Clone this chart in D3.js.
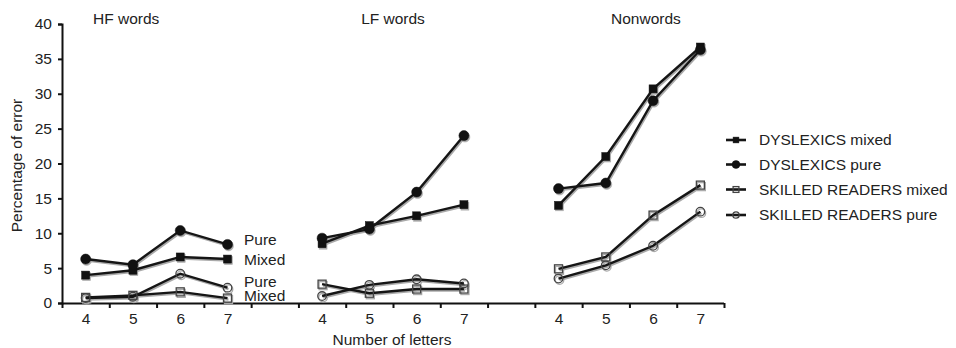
<!DOCTYPE html>
<html>
<head>
<meta charset="utf-8">
<script src="https://cdn.jsdelivr.net/npm/d3@7"></script>
<style>
  html, body { margin: 0; padding: 0; background: #fff; }
  svg { display: block; font-family: "Liberation Sans", Arial, sans-serif; }
</style>
</head>
<body>
<svg id="chart" width="956" height="348"></svg>
<script>
// ---- data ----
const groups = ["HF words", "LF words", "Nonwords"];
const letters = ["4", "5", "6", "7"];
const yTicks = [0, 5, 10, 15, 20, 25, 30, 35, 40];
const seriesNames = ["DYSLEXICS mixed", "DYSLEXICS pure", "SKILLED READERS mixed", "SKILLED READERS pure"];
// values per group: HF(4..7), LF(4..7), Nonwords(4..7)
const dyslexicsMixed = [4.0, 4.7, 6.6, 6.3,   8.5, 11.1, 12.5, 14.1,   14.0, 21.0, 30.7, 36.7];
const dyslexicsPure  = [6.3, 5.5, 10.4, 8.4,  9.3, 10.6, 15.9, 24.0,   16.4, 17.2, 29.0, 36.3];
const skilledMixed   = [0.8, 1.1, 1.6, 0.7,   2.7, 1.4, 2.0, 2.0,      4.9, 6.6, 12.6, 16.9];
const skilledPure    = [0.7, 0.9, 4.2, 2.2,   1.0, 2.6, 3.4, 2.8,      3.5, 5.4, 8.2, 13.1];
const inlineLabels = ["Pure", "Mixed", "Pure", "Mixed"];

// ---- layout ----
const svg = d3.select("#chart");
const FONT = 15.5;
const mLeft = 62, mRight = 724, mTop = 24, mBottom = 303;

// slot index: 4 per group, one blank between groups
const slotOf = (g, i) => g * 5 + i;
const x = d3.scaleLinear().domain([-0.5, 13.5]).range([mLeft, mRight]);
const y = d3.scaleLinear().domain([0, 40]).range([mBottom, mTop]);

// y axis
const yAxis = svg.append("g").attr("transform", `translate(${mLeft},0)`)
  .call(d3.axisLeft(y).tickValues(yTicks).tickSize(4).tickPadding(6).tickFormat(d3.format("d")));
yAxis.select(".domain").attr("stroke", "#111").attr("stroke-width", 2);
yAxis.selectAll(".tick line").attr("stroke", "#111").attr("stroke-width", 2);
yAxis.selectAll(".tick text").attr("font-size", FONT).attr("fill", "#222")
  .attr("font-family", "Liberation Sans, Arial, sans-serif");

// x axis: tick marks at slot boundaries
const edges = d3.range(-0.5, 14, 1);
const xAxis = svg.append("g").attr("transform", `translate(0,${mBottom})`)
  .call(d3.axisBottom(x).tickValues(edges).tickSize(5).tickFormat(""));
xAxis.select(".domain").attr("stroke", "#111").attr("stroke-width", 2).attr("d", `M${mLeft},0.5H${mRight}`);
xAxis.selectAll(".tick line").attr("stroke", "#111").attr("stroke-width", 2);

// x labels at slot centres
const labelSlots = [];
groups.forEach((g, gi) => letters.forEach((l, li) => labelSlots.push({ s: slotOf(gi, li), l })));
const xLab = svg.append("g").attr("transform", `translate(0,${mBottom})`)
  .call(d3.axisBottom(x).tickValues(labelSlots.map(d => d.s)).tickSize(0).tickPadding(10)
    .tickFormat((d) => labelSlots.find(e => e.s === d).l));
xLab.select(".domain").remove();
xLab.selectAll(".tick text").attr("font-size", FONT).attr("fill", "#222")
  .attr("font-family", "Liberation Sans, Arial, sans-serif");

// axis titles
svg.append("text").attr("transform", `translate(22,${(mTop + mBottom) / 2 + 2}) rotate(-90)`)
  .attr("text-anchor", "middle").attr("font-size", FONT).attr("fill", "#222").text("Percentage of error");
svg.append("text").attr("x", (x(slotOf(1, 1)) + x(slotOf(1, 2))) / 2 - 1).attr("y", 345)
  .attr("text-anchor", "middle").attr("font-size", FONT).attr("fill", "#222").text("Number of letters");

// group titles
const titlePos = [{ x: 93, a: "start" }, { x: 393, a: "middle" }, { x: 611, a: "start" }];
groups.forEach((g, gi) => {
  svg.append("text").attr("x", titlePos[gi].x).attr("y", 24).attr("text-anchor", titlePos[gi].a)
    .attr("font-size", FONT).attr("fill", "#222").text(g);
});

// ---- series ----
const series = [
  { name: seriesNames[0], values: dyslexicsMixed, shape: "square", filled: true },
  { name: seriesNames[1], values: dyslexicsPure, shape: "circle", filled: true },
  { name: seriesNames[2], values: skilledMixed, shape: "square", filled: false },
  { name: seriesNames[3], values: skilledPure, shape: "circle", filled: false }
];
const line = d3.line().x(d => x(d.s)).y(d => y(d.v));
const SH = { dx: 1, dy: 1.5 };

function marker(g, shape, filled, cx, cy, size, shadow) {
  const fill = filled ? (shadow ? "#aaa" : "#111") : "none";
  const stroke = shadow ? "#aaa" : (filled ? "#111" : "#444");
  if (shape === "square") {
    g.append("rect").attr("x", cx - size).attr("y", cy - size).attr("width", size * 2).attr("height", size * 2)
      .attr("fill", fill).attr("stroke", stroke).attr("stroke-width", filled ? 0.5 : 1.3);
  } else {
    g.append("circle").attr("cx", cx).attr("cy", cy).attr("r", size + (filled ? 1 : 0.3))
      .attr("fill", fill).attr("stroke", stroke).attr("stroke-width", filled ? 0.5 : 1.3);
  }
}

const plot = svg.append("g");
// shadows first
series.forEach(se => {
  groups.forEach((g, gi) => {
    const pts = letters.map((l, li) => ({ s: slotOf(gi, li), v: se.values[gi * 4 + li] }));
    plot.append("path").attr("d", line(pts)).attr("fill", "none").attr("stroke", "#aaa")
      .attr("stroke-width", 2.4).attr("transform", `translate(${SH.dx},${SH.dy})`);
    pts.forEach(p => marker(plot, se.shape, se.filled, x(p.s) + SH.dx, y(p.v) + SH.dy, 4, true));
  });
});
series.forEach(se => {
  groups.forEach((g, gi) => {
    const pts = letters.map((l, li) => ({ s: slotOf(gi, li), v: se.values[gi * 4 + li] }));
    const gg = plot.append("g");
    gg.append("path").attr("d", line(pts)).attr("fill", "none").attr("stroke", "#151515").attr("stroke-width", 2.4);
    pts.forEach(p => marker(gg, se.shape, se.filled, x(p.s), y(p.v), 4, false));
  });
});

// inline labels next to HF words
const inlineY = [245, 265, 287, 301];
inlineLabels.forEach((t, i) => {
  svg.append("text").attr("x", 244).attr("y", inlineY[i]).attr("font-size", FONT).attr("fill", "#222").text(t);
});

// ---- legend ----
const legendY = [140, 164.5, 189.5, 215];
series.forEach((se, i) => {
  const lg = svg.append("g").attr("transform", `translate(0,${legendY[i]})`);
  lg.append("line").attr("x1", 726).attr("x2", 746).attr("y1", 0).attr("y2", 0)
    .attr("stroke", "#151515").attr("stroke-width", 2.6);
  marker(lg, se.shape, se.filled, 736, 0, 2.9, false);
  lg.append("text").attr("x", 759).attr("y", 0).attr("dy", "0.35em").attr("font-size", FONT)
    .attr("fill", "#222").text(se.name);
});
</script>
</body>
</html>
